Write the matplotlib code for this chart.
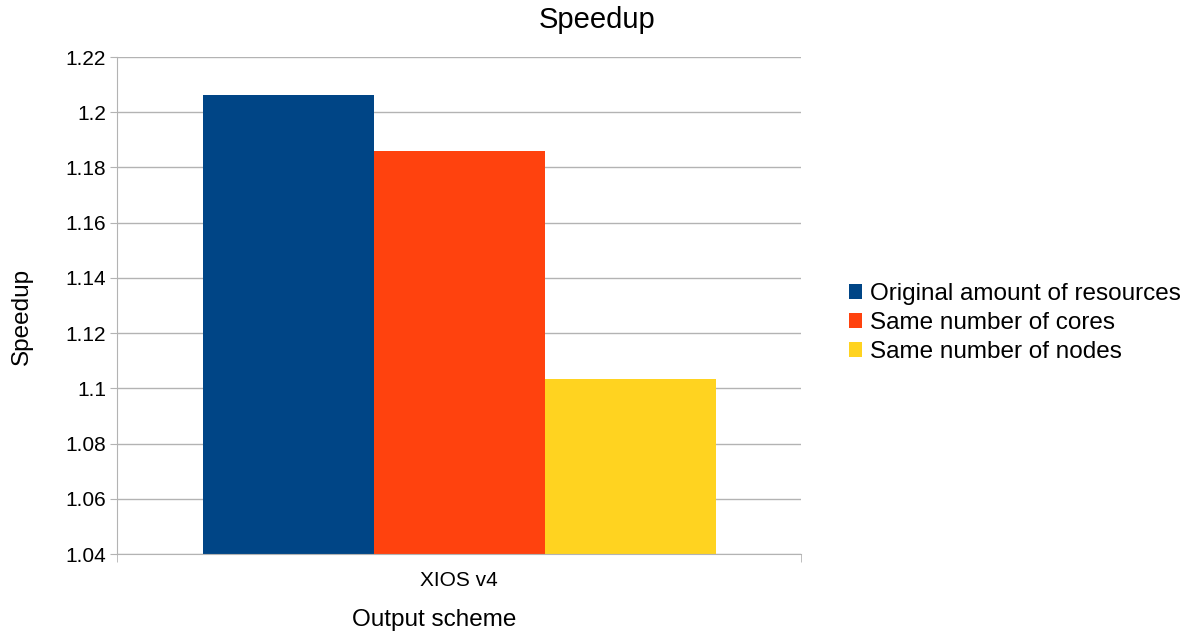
import matplotlib.pyplot as plt
import numpy as np

plt.rcParams['font.family'] = ['Liberation Sans', 'DejaVu Sans']

categories = ['XIOS v4']
series = ['Original amount of resources', 'Same number of cores', 'Same number of nodes']
values = [1.2062, 1.1858, 1.1034]
colors = ['#004586', '#ff420e', '#ffd320']

fig = plt.figure(figsize=(11.94, 6.37), dpi=100)
ax = fig.add_axes([0.098, 0.130, 0.573, 0.7805])

x = np.arange(len(categories))
w = 0.25
for i, (name, v, c) in enumerate(zip(series, values, colors)):
    ax.bar(x + (i - 1) * w, [v], width=w, color=c, label=name, zorder=2)

ax.set_xlim(-0.5, 0.5)
ax.set_ylim(1.04, 1.22)
ax.set_yticks(np.arange(1.04, 1.2201, 0.02))
ax.set_yticklabels(['1.04', '1.06', '1.08', '1.1', '1.12', '1.14', '1.16', '1.18', '1.2', '1.22'])
ax.yaxis.grid(True, color='#b3b3b3', linewidth=1, zorder=0)
ax.set_xticks(x)
ax.set_xticklabels(categories)
ax.tick_params(axis='x', length=0, labelsize=15, pad=12)
ax.tick_params(axis='y', length=5, color='#b3b3b3', labelsize=15, pad=3)
ax.set_xticks([-0.5, 0.5], minor=True)
ax.tick_params(axis='x', which='minor', length=6, color='#b3b3b3')

for s in ['top', 'right']:
    ax.spines[s].set_visible(False)
ax.spines['left'].set_color('#b3b3b3')
ax.spines['bottom'].set_color('#b3b3b3')

ax.set_ylabel('Speedup', fontsize=17.5)
ax.yaxis.set_label_coords(-0.123, 0.479)
ax.set_xlabel('Output scheme', fontsize=17.5)
ax.xaxis.set_label_coords(0.463, -0.11)
fig.suptitle('Speedup', fontsize=21, x=0.5, y=0.99)

ax.legend(loc='center left', bbox_to_anchor=(1.07, 0.465), frameon=False, fontsize=17.5,
          handlelength=0.55, handleheight=0.55, handletextpad=0.3, labelspacing=0.28,
          borderaxespad=0, borderpad=0)

fig.savefig('out.png', dpi=100)
